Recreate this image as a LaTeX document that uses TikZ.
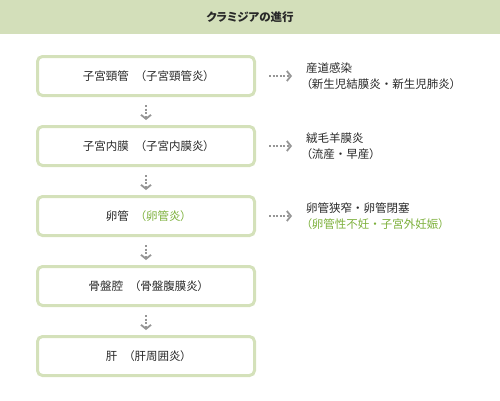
\documentclass[tikz,border=0pt]{standalone}
\usepackage{fontspec}
\setmainfont[RawFeature=+palt]{Noto Sans CJK JP}
\usetikzlibrary{arrows.meta,positioning}
\definecolor{HeadGreen}{RGB}{211,223,186}
\definecolor{BoxGreen}{RGB}{212,225,186}
\definecolor{TextGreen}{RGB}{125,176,60}
\definecolor{InkGray}{RGB}{40,40,40}
\definecolor{DotGray}{RGB}{150,150,150}
\newcommand{\sepdot}{\hspace{0.25em}・\hspace{0.25em}}

\begin{document}
\begin{tikzpicture}[x=1pt,y=1pt,node distance=28pt,
  stage/.style={draw=BoxGreen,line width=3pt,rounded corners=5pt,minimum width=217pt,minimum height=39pt,text=InkGray,font=\fontsize{11.5}{14}\selectfont},
  effect/.style={align=left,inner sep=0pt,right=50pt of #1,text=InkGray,font=\fontsize{11.5}{16}\selectfont},
  dotarrow/.style={draw=DotGray,line width=2pt,dash pattern=on 2pt off 1.6pt,-{Straight Barb[length=4pt,width=10pt,line width=1.8pt]}}]
\useasboundingbox (0,0) rectangle (500,400);
\fill[HeadGreen] (0,366) rectangle (500,400);
\node[text=InkGray,font=\bfseries\fontsize{11.5}{14}\selectfont] (title) at (250,383) {クラミジアの進行};

\node[stage] (cervix) at (146,324) {子宮頸管　（子宮頸管炎）};
\node[stage,below=of cervix] (endo) {子宮内膜　（子宮内膜炎）};
\node[stage,below=of endo] (tube) {卵管　\textcolor{TextGreen}{（卵管炎）}};
\node[stage,below=of tube] (pelvis) {骨盤腔　（骨盤腹膜炎）};
\node[stage,below=of pelvis] (liver) {肝　（肝周囲炎）};

\node[effect=cervix] (birth) {産道感染\\（新生児結膜炎\sepdot 新生児肺炎）};
\node[effect=endo] (amnion) {絨毛羊膜炎\\（流産\sepdot 早産）};
\node[effect=tube] (block) {卵管狭窄\sepdot 卵管閉塞\\\textcolor{TextGreen}{（卵管性不妊\sepdot 子宮外妊娠）}};

\draw[dotarrow,shorten <=8pt,shorten >=5pt] (cervix) -- (endo);
\draw[dotarrow,shorten <=8pt,shorten >=5pt] (endo) -- (tube);
\draw[dotarrow,shorten <=8pt,shorten >=5pt] (tube) -- (pelvis);
\draw[dotarrow,shorten <=8pt,shorten >=5pt] (pelvis) -- (liver);

\draw[dotarrow,shorten <=13pt,shorten >=14pt] (cervix) -- (cervix -| birth.west);
\draw[dotarrow,shorten <=13pt,shorten >=14pt] (endo) -- (endo -| amnion.west);
\draw[dotarrow,shorten <=13pt,shorten >=14pt] (tube) -- (tube -| block.west);
\end{tikzpicture}
\end{document}
